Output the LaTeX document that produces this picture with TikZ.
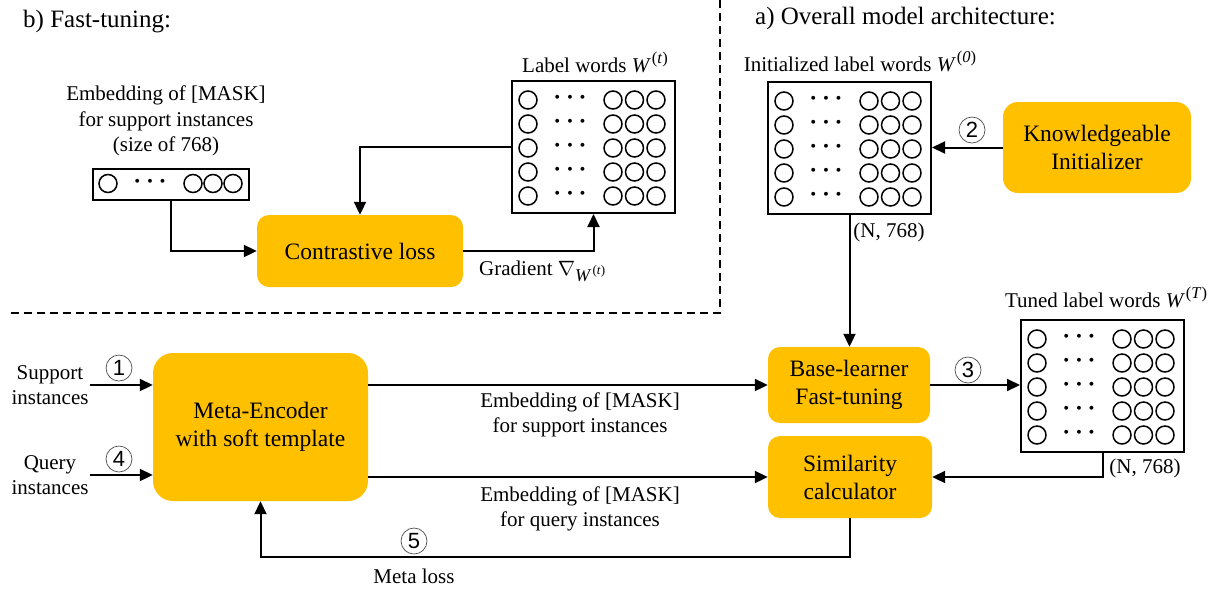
\documentclass[tikz,border=0pt]{standalone}
\usepackage{fontspec}
\setmainfont{Liberation Serif}
\newfontfamily\circfont{Liberation Sans}
\usetikzlibrary{arrows.meta,calc}
\definecolor{gold}{HTML}{FFC000}
\newcommand{\Wsup}[1]{\textit{W}\kern1pt\raisebox{8.5pt}{\fontsize{16.5}{16.5}\selectfont(\textit{#1})}}
\tikzset{
  box/.style={fill=gold, rounded corners=12pt, draw=none, align=center, inner sep=0pt, font=\fontsize{23.5}{28}\selectfont},
  matbox/.style={draw=black, line width=2pt, anchor=north west, inner sep=0pt},
  circ/.style={line width=1.5pt},
  conn/.style={line width=2pt},
  arr/.style={conn, -{Triangle[length=13pt,width=12pt]}},
  lbl/.style={font=\fontsize{21}{25.5}\selectfont, align=center, inner sep=1pt},
  dotlbl/.style={font=\fontsize{25}{25}\selectfont\boldmath, inner sep=0pt},
  ttl/.style={font=\fontsize{25}{30}\selectfont, inner sep=0pt},
  num/.style={circle, draw=black!70, line width=0.7pt, minimum size=26pt, inner sep=0pt, font=\circfont\fontsize{22}{22}\selectfont},
  dsh/.style={line width=1.3pt, dash pattern=on 8pt off 5pt},
}
\newcommand{\wordmat}[3]{%
  \node[matbox, minimum width=163pt, minimum height=132pt] (#1) at (#2,#3) {};
  \foreach \r in {0,...,4}{
    \foreach \c in {17,102,123.5,145}{\draw[circ] ($(#1.north west)+(\c,{20+24*\r})$) circle (9pt);}
    \node[dotlbl] (#1dots\r) at ($(#1.north west)+(59,{18+24*\r})$) {$\cdots$};
  }
}
\begin{document}
\begin{tikzpicture}[x=1pt,y=-1pt]
\useasboundingbox (0,0) rectangle (1217,590);

% titles
\node[ttl, anchor=base west] (tb) at (23,27) {b) Fast-tuning:};
\node[ttl, anchor=base west] (ta) at (755,24) {a) Overall model architecture:};

% dashed separators
\draw[dsh] (720,0) -- (720,313) -- (8,313);

% fast-tuning part
\node[lbl] (vectxt) at (166,121) {Embedding of [MASK]\\for support instances\\(size of 768)};
\node[matbox, minimum width=156pt, minimum height=31pt] (vec) at (92,168) {};
\foreach \c in {16,101,121,141}{\draw[circ] ($(vec.north west)+(\c,15.5)$) circle (9pt);}
\node[dotlbl] (vecdots) at ($(vec.north west)+(58,13.5)$) {$\cdots$};

\node[box, minimum width=206pt, minimum height=72pt] (contr) at (360,251) {Contrastive loss};

\wordmat{labw}{511}{80}
\node[lbl, anchor=base] (labwtxt) at (595,72) {Label words \Wsup{t}};

\draw[arr] (vec.south) |- (contr.west);
\draw[arr] (labw.west) -| (contr.north);
\draw[arr] (contr.east) -| (labw.south);
\node[lbl, anchor=base west] (grad) at (478,275) {Gradient $\nabla$\raisebox{-6pt}{\fontsize{18}{18}\selectfont\textit{W}\kern1pt\raisebox{6.5pt}{\fontsize{13}{13}\selectfont(\textit{t})}}};

% overall architecture
\wordmat{init}{767}{81}
\node[lbl, anchor=base] (inittxt) at (860,71) {Initialized label words \Wsup{0}};
\node[lbl, anchor=base] (initn) at (889,237) {(N, 768)};

\node[box, rounded corners=15pt, minimum width=188pt, minimum height=91pt] (know) at (1097,147.5) {Knowledgeable\\Initializer};
\draw[arr] (know.west) -- (know.west -| init.east);
\node[num] (n2) at (972,130) {2};

\node[box, rounded corners=20pt, minimum width=215pt, minimum height=148pt] (meta) at (260.5,427) {Meta-Encoder\\with soft template};
\node[box, minimum width=162pt, minimum height=76pt] (base) at (849,385) {Base-learner\\Fast-tuning};
\node[box, minimum width=164pt, minimum height=82pt] (sim) at (850,477) {Similarity\\calculator};

\wordmat{tuned}{1020}{319}
\node[lbl, anchor=base] (tunedtxt) at (1106,307) {Tuned label words \Wsup{T}};
\node[lbl, anchor=base] (tunedn) at (1145,473) {(N, 768)};

\draw[arr] (init.south) -- (init.south |- base.north);
\draw[arr] (base.east) -- (base.east -| tuned.west);
\node[num] (n3) at (968,370) {3};
\draw[arr] (tuned.south) |- (sim.east);

\node[lbl] (sup) at (50,385) {Support\\instances};
\node[lbl] (qry) at (50,475) {Query\\instances};
\draw[arr] (sup.east) -- (sup.east -| meta.west);
\draw[arr] (qry.east) -- (qry.east -| meta.west);
\node[num] (n1) at (119,368) {1};
\node[num] (n4) at (119,459) {4};

\draw[arr] (meta.east |- base.west) -- (base.west);
\draw[arr] (meta.east |- sim.west) -- (sim.west);
\node[lbl] (suptxt) at (580,415) {Embedding of [MASK]\\for support instances};
\node[lbl] (qrytxt) at (580,509) {Embedding of [MASK]\\for query instances};

\draw[arr] (sim.south) -- ++(0,39) -| (meta.south);
\node[num] (n5) at (414,541) {5};
\node[lbl, anchor=base] (mloss) at (414,583) {Meta loss};
\end{tikzpicture}
\end{document}
